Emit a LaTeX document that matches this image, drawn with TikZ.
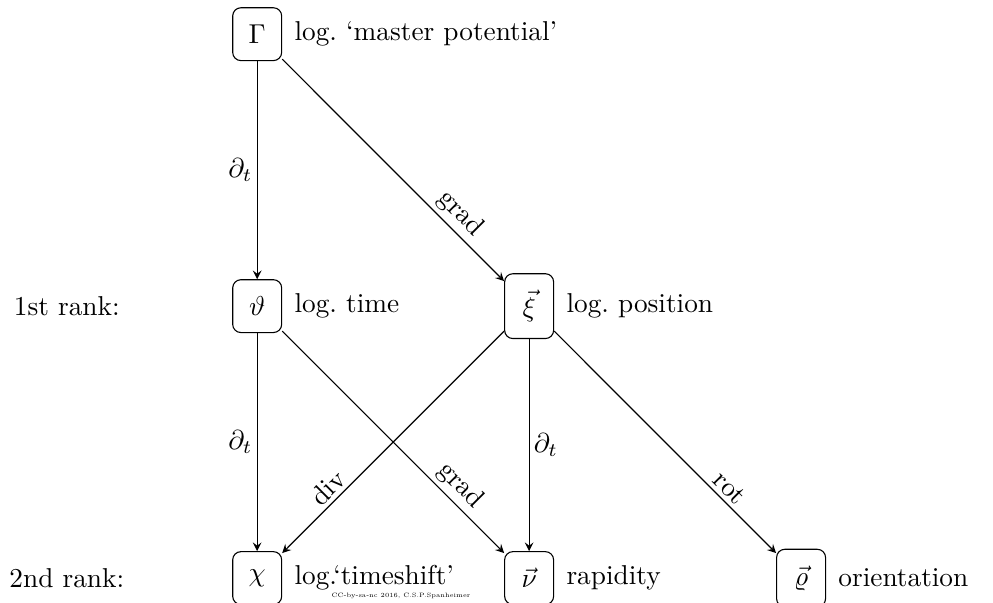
\documentclass[tikz,border=0pt]{standalone}
\usetikzlibrary{positioning}

\tikzstyle{quantity} = [rectangle, rounded corners=3pt, minimum width=6.3mm, minimum height=6.8mm, inner ysep=6pt, text centered, draw=black]
\tikzstyle{arrow} = [->,>=stealth]
\tikzstyle{lbl} = [inner sep=1.5pt]

\begin{document}
\begin{tikzpicture}[node distance=3.5cm]
    \useasboundingbox (-3.31,-0.32) rectangle (9.47,7.44);

    \node (gamma)[quantity] at (0,7) {$\Gamma$};
    \node (theta)[quantity, below of=gamma] {$\vartheta$};
    \node (xi)[quantity, right of=theta] {$\vec{\xi}$};
    \node (chi)[quantity, below of=theta] {$\chi$};
    \node (nu)[quantity, right of=chi] {$\vec{\nu}$};
    \node (rho)[quantity, right of=nu] {$\vec{\varrho}$};

    \node (gammaText)[right=1pt of gamma] {log.\ `master potential'};
    \node (thetaText)[right=1pt of theta] {log.\ time};
    \node (xiText)[right=1pt of xi] {log.\ position};
    \node (chiText)[right=1pt of chi] {log.`timeshift'};
    \node (nuText)[right=1pt of nu] {rapidity};
    \node (rhoText)[right=1pt of rho] {orientation};

    \node (rankOne)[left of=theta, xshift=1.05cm] {1st rank:};
    \node (rankTwo)[left of=chi, xshift=1.05cm] {2nd rank:};
    \node (credit)[font=\fontsize{2.3}{2.8}\selectfont] at (1.85,-0.23) {CC-by-sa-nc 2016, C.S.P.Spanheimer};

    \draw [arrow] (gamma) -- node[lbl, left]{$\partial_t$} (theta);
    \draw [arrow] (gamma) -- node[lbl, sloped, above, pos=0.75]{grad} (xi);
    \draw [arrow] (theta) -- node[lbl, left]{$\partial_t$} (chi);
    \draw [arrow] (theta) -- node[lbl, sloped, above, pos=0.75]{grad} (nu);
    \draw [arrow] (xi) -- node[lbl, sloped, above, pos=0.75]{div} (chi);
    \draw [arrow] (xi) -- node[lbl, right]{$\partial_t$} (nu);
    \draw [arrow] (xi) -- node[lbl, sloped, above, pos=0.75]{rot} (rho);
\end{tikzpicture}
\end{document}
